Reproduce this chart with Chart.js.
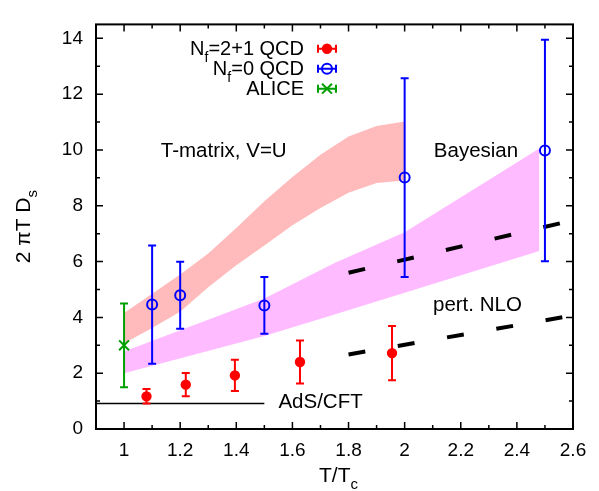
<!DOCTYPE html>
<html>
<head>
<meta charset="utf-8">
<script src="https://cdn.jsdelivr.net/npm/chart.js@4"></script>
<style>
	html, body { margin: 0; padding: 0; background: #fff; }
</style>
</head>
<body>
<canvas id="chart" width="599" height="491"></canvas>
<script>
const FONT = '"Liberation Sans", Arial, Helvetica, sans-serif'

// axis ticks
const xTicks = [1, 1.2, 1.4, 1.6, 1.8, 2, 2.2, 2.4, 2.6]
const xMinor = [1.1, 1.3, 1.5, 1.7, 1.9, 2.1, 2.3, 2.5]
const yTicks = [0, 2, 4, 6, 8, 10, 12, 14]
const yMinor = [1, 3, 5, 7, 9, 11, 13]

// lattice, Nf=2+1
const qcd21_T = [1.08, 1.22, 1.395, 1.627, 1.955]
const qcd21_D = [1.17, 1.59, 1.92, 2.40, 2.72]
const qcd21_err = [0.26, 0.42, 0.56, 0.77, 0.97]

// lattice, Nf=0
const qcd0_T = [1.1, 1.2, 1.5, 2.0, 2.5]
const qcd0_D = [4.46, 4.79, 4.43, 9.01, 9.98]
const qcd0_err = [2.12, 1.2, 1.02, 3.56, 3.97]

// ALICE
const alice_T = [1.0]
const alice_D = [3.0]
const alice_err = [1.5]

// T-matrix band
const tmat_T = [1.0, 1.1, 1.2, 1.3, 1.4, 1.5, 1.6, 1.7, 1.8, 1.9, 2.0]
const tmat_hi = [4.16, 4.85, 5.54, 6.29, 7.2, 8.16, 9.03, 9.83, 10.48, 10.86, 11.02]
const tmat_lo = [3.07, 3.62, 4.2, 5.08, 5.87, 6.58, 7.3, 7.92, 8.47, 8.82, 8.91]

// Bayesian band
const bayes_T = [1.0, 1.5, 1.75, 2.0, 2.48]
const bayes_hi = [2.78, 4.68, 5.95, 7.05, 10.05]
const bayes_lo = [2.0, 3.33, 4.1, 4.88, 6.38]

// pert. NLO (two dashed curves)
const nloA_T = [1.8, 2.6]
const nloA_D = [5.6, 7.48]
const nloB_T = [1.8, 2.6]
const nloB_D = [2.67, 4.07]

// AdS/CFT
const ads_T = [0.9, 1.5]
const ads_D = [0.91, 0.91]

function pts(xs, ys) {
	return xs.map((x, i) => ({x: x, y: ys[i]}))
}

function band(xs, ys, color, fill) {
	return {
		data: pts(xs, ys),
		fill: fill,
		backgroundColor: color,
		borderColor: 'transparent',
		borderWidth: 0,
		pointRadius: 0,
		tension: 0,
		order: 10
	}
}

function curve(xs, ys, width, dash) {
	return {
		data: pts(xs, ys),
		fill: false,
		borderColor: '#000',
		borderWidth: width,
		borderDash: dash,
		borderCapStyle: 'butt',
		pointRadius: 0,
		order: 5
	}
}

function points(xs, ys, err, color, style, fillColor, radius) {
	return {
		data: pts(xs, ys),
		err: err,
		showLine: false,
		pointStyle: style,
		pointRadius: radius,
		pointBorderWidth: 2,
		borderColor: color,
		pointBackgroundColor: fillColor,
		pointBorderColor: color,
		order: 1
	}
}

const series = [
	band(tmat_T, tmat_hi, '#ffbbbb', '+1'),
	band(tmat_T, tmat_lo, '#ffbbbb', false),
	band(bayes_T, bayes_hi, '#ffbbff', '+1'),
	band(bayes_T, bayes_lo, '#ffbbff', false),
	curve(nloA_T, nloA_D, 4, [17, 33]),
	curve(nloB_T, nloB_D, 4, [17, 33]),
	curve(ads_T, ads_D, 1.5, []),
	points(qcd21_T, qcd21_D, qcd21_err, '#ff0000', 'circle', '#ff0000', 4.2),
	points(qcd0_T, qcd0_D, qcd0_err, '#0000ff', 'circle', 'rgba(0,0,0,0)', 5),
	points(alice_T, alice_D, alice_err, '#00a000', 'crossRot', '#00a000', 7)
]

const legend_items = [
	{label: 'N', sub: 'f', rest: '=2+1 QCD', ds: 7},
	{label: 'N', sub: 'f', rest: '=0 QCD', ds: 8},
	{label: 'ALICE', sub: '', rest: '', ds: 9}
]

const text_labels = [
	{text: 'T-matrix, V=U', x: 1.131, y: 9.76},
	{text: 'Bayesian', x: 2.104, y: 9.76},
	{text: 'pert. NLO', x: 2.101, y: 4.22},
	{text: 'AdS/CFT', x: 1.55, y: 0.77}
]

function draw_marker(ctx, ds, x, y) {
	ctx.save()
	ctx.strokeStyle = ds.pointBorderColor
	ctx.fillStyle = ds.pointBackgroundColor
	ctx.lineWidth = 2
	Chart.helpers.drawPoint(ctx, {pointStyle: ds.pointStyle, radius: ds.pointRadius, rotation: 0, borderWidth: 2}, x, y)
	ctx.restore()
}

function vbar(ctx, x, y1, y2, cap) {
	ctx.beginPath()
	ctx.moveTo(x, y1); ctx.lineTo(x, y2)
	ctx.moveTo(x - cap, y1); ctx.lineTo(x + cap, y1)
	ctx.moveTo(x - cap, y2); ctx.lineTo(x + cap, y2)
	ctx.stroke()
}

function sub_text(ctx, x, y, main, sub, rest, size, align) {
	const big = size + 'px ' + FONT
	const small = Math.round(size * 0.7) + 'px ' + FONT
	ctx.font = big
	const w1 = ctx.measureText(main).width
	const w3 = ctx.measureText(rest).width
	ctx.font = small
	const w2 = ctx.measureText(sub).width
	const total = w1 + w2 + w3
	let x0 = x
	if (align === 'right') x0 = x - total
	if (align === 'center') x0 = x - total / 2
	ctx.textAlign = 'left'
	ctx.textBaseline = 'alphabetic'
	ctx.font = big
	ctx.fillText(main, x0, y)
	ctx.font = small
	ctx.fillText(sub, x0 + w1, y + 7)
	ctx.font = big
	ctx.fillText(rest, x0 + w1 + w2, y)
}

const decorations = {
	id: 'decorations',
	afterDatasetsDraw(chart) {
		const ctx = chart.ctx
		const xs = chart.scales.x, ys = chart.scales.y
		// error bars
		chart.data.datasets.forEach((ds, i) => {
			if (!ds.err) return
			ctx.save()
			ctx.strokeStyle = ds.borderColor
			ctx.lineWidth = 2
			ds.data.forEach((p, j) => {
				const px = xs.getPixelForValue(p.x)
				vbar(ctx, px, ys.getPixelForValue(p.y + ds.err[j]), ys.getPixelForValue(p.y - ds.err[j]), 4)
			})
			ctx.restore()
		})
	},
	afterDraw(chart) {
		const ctx = chart.ctx
		const a = chart.chartArea
		const xs = chart.scales.x, ys = chart.scales.y
		ctx.save()
		// frame and inward ticks
		ctx.strokeStyle = '#000'
		ctx.lineWidth = 2
		ctx.strokeRect(a.left, a.top, a.right - a.left, a.bottom - a.top)
		ctx.lineWidth = 1.5
		ctx.beginPath()
		const xt = (v, len) => {
			const p = xs.getPixelForValue(v)
			ctx.moveTo(p, a.bottom); ctx.lineTo(p, a.bottom - len)
			ctx.moveTo(p, a.top); ctx.lineTo(p, a.top + len)
		}
		const yt = (v, len) => {
			const p = ys.getPixelForValue(v)
			ctx.moveTo(a.left, p); ctx.lineTo(a.left + len, p)
			ctx.moveTo(a.right, p); ctx.lineTo(a.right - len, p)
		}
		xTicks.forEach(v => xt(v, 7))
		xMinor.forEach(v => xt(v, 4))
		yTicks.forEach(v => yt(v, 7))
		yMinor.forEach(v => yt(v, 4))
		ctx.stroke()

		// labels
		ctx.fillStyle = '#000'
		ctx.font = '20.5px ' + FONT
		ctx.textAlign = 'left'
		ctx.textBaseline = 'alphabetic'
		text_labels.forEach(l => {
			ctx.fillText(l.text, xs.getPixelForValue(l.x), ys.getPixelForValue(l.y))
		})

		// legend
		legend_items.forEach((item, i) => {
			const cy = a.top + 24.3 + i * 20
			ctx.fillStyle = '#000'
			sub_text(ctx, 304, cy + 6, item.label, item.sub, item.rest, 20, 'right')
			const ds = chart.data.datasets[item.ds]
			ctx.strokeStyle = ds.borderColor
			ctx.lineWidth = 2
			ctx.beginPath()
			ctx.moveTo(318, cy); ctx.lineTo(336, cy)
			ctx.moveTo(318, cy - 4); ctx.lineTo(318, cy + 4)
			ctx.moveTo(336, cy - 4); ctx.lineTo(336, cy + 4)
			ctx.stroke()
			draw_marker(ctx, ds, 327, cy)
		})

		// axis titles
		ctx.fillStyle = '#000'
		sub_text(ctx, (a.left + a.right) / 2 + 4, 482, 'T/T', 'c', '', 21, 'center')
		ctx.save()
		ctx.translate(30, (a.top + a.bottom) / 2)
		ctx.rotate(-Math.PI / 2)
		sub_text(ctx, 0, 0, '2 \u03c0T D', 's', '', 21, 'center')
		ctx.restore()
		ctx.restore()
	}
}

const chart = new Chart(document.getElementById('chart'), {
	type: 'line',
	data: {datasets: series},
	options: {
		responsive: false,
		animation: false,
		layout: {padding: {top: 9, right: 26, left: 0, bottom: 0}},
		plugins: {
			legend: {display: false},
			tooltip: {enabled: false}
		},
		scales: {
			x: {
				type: 'linear',
				min: 0.9,
				max: 2.6,
				grid: {display: false, drawTicks: false},
				border: {display: false},
				afterBuildTicks: s => { s.ticks = xTicks.map(v => ({value: v})) },
				afterFit: s => { s.height = 62 },
				ticks: {
					color: '#000',
					padding: 10,
					maxRotation: 0,
					font: {family: FONT, size: 19},
					callback: v => String(v)
				}
			},
			y: {
				type: 'linear',
				min: 0,
				max: 14.5,
				grid: {display: false, drawTicks: false},
				border: {display: false},
				afterBuildTicks: s => { s.ticks = yTicks.map(v => ({value: v})) },
				afterFit: s => { s.width = 96 },
				ticks: {
					color: '#000',
					padding: 13,
					font: {family: FONT, size: 19},
					callback: v => String(v)
				}
			}
		}
	},
	plugins: [decorations]
})
</script>
</body>
</html>
